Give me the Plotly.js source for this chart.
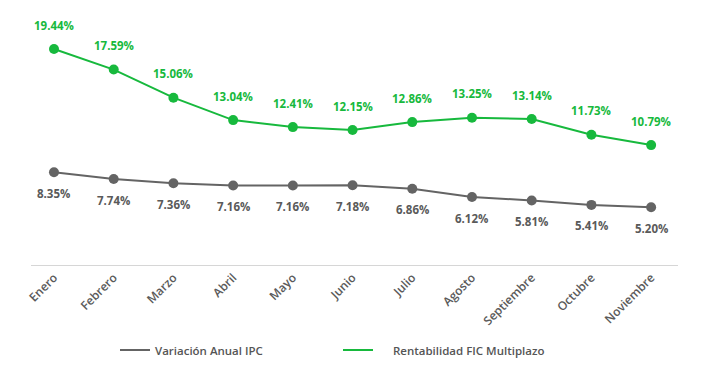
<!DOCTYPE html>
<html>
<head>
<meta charset="utf-8">
<script src="https://cdn.plot.ly/plotly-3.0.1.min.js"></script>
<style>html,body{margin:0;padding:0;background:#fff;}#chart{width:709px;height:368px;}</style>
</head>
<body>
<div id="chart"></div>
<script>
const months = ["Enero","Febrero","Marzo","Abril","Mayo","Junio","Julio","Agosto","Septiembre","Octubre","Noviembre"];
const ipc = [8.35, 7.74, 7.36, 7.16, 7.16, 7.18, 6.86, 6.12, 5.81, 5.41, 5.20];
const fic = [19.44, 17.59, 15.06, 13.04, 12.41, 12.15, 12.86, 13.25, 13.14, 11.73, 10.79];
const ipcName = "Variación Anual IPC";
const ficName = "Rentabilidad FIC Multiplazo";

const GREEN = "#17b93d";
const GRAY = "#646464";
const FONT = "Open Sans";

const traces = [
  {x: months, y: ipc, name: ipcName, type: "scatter", mode: "lines+markers", showlegend: false,
   line: {color: GRAY, width: 2}, marker: {color: GRAY, size: 10}, hoverinfo: "skip"},
  {x: months, y: fic, name: ficName, type: "scatter", mode: "lines+markers", showlegend: false,
   line: {color: GREEN, width: 2}, marker: {color: GREEN, size: 10}, hoverinfo: "skip"},
  {x: [months[0]], y: [null], name: ipcName, type: "scatter", mode: "lines",
   line: {color: GRAY, width: 2}, legend: "legend", hoverinfo: "skip"},
  {x: [months[0]], y: [null], name: "\u00a0\u00a0\u00a0\u00a0\u00a0" + ficName, type: "scatter", mode: "lines",
   line: {color: GREEN, width: 2}, legend: "legend2", hoverinfo: "skip"}
];

const annotations = [];
months.forEach((m, i) => {
  annotations.push({x: m, y: fic[i], text: fic[i].toFixed(2) + "%", showarrow: false, yshift: 24,
    font: {family: FONT, size: 11.5, color: GREEN, weight: 700}});
  annotations.push({x: m, y: ipc[i], text: ipc[i].toFixed(2) + "%", showarrow: false, yshift: -21,
    font: {family: FONT, size: 11.5, color: "#5a5a5a", weight: 700}});
});

const layout = {
  width: 709, height: 368,
  margin: {l: 31, r: 31, t: 20, b: 103},
  paper_bgcolor: "#fff", plot_bgcolor: "#fff",
  font: {family: FONT, color: "#5a5a5a"},
  xaxis: {type: "category", range: [-0.385, 10.45], showline: true, linecolor: "#d6d6d6", linewidth: 1,
    showgrid: false, zeroline: false, ticks: "", tickangle: -45,
    tickfont: {family: FONT, size: 12, color: "#5a5a5a", weight: 600}},
  yaxis: {range: [0, 22.05], showgrid: false, zeroline: false, showticklabels: false, showline: false},
  showlegend: true,
  legend: {orientation: "h", xref: "container", yref: "container", x: 115/709, xanchor: "left",
    y: 18/368, yanchor: "middle", font: {family: FONT, size: 11.5, color: "#555", weight: 600}, bgcolor: "rgba(0,0,0,0)"},
  legend2: {orientation: "h", xref: "container", yref: "container", x: 338/709, xanchor: "left",
    y: 18/368, yanchor: "middle", font: {family: FONT, size: 11.5, color: "#555", weight: 600}, bgcolor: "rgba(0,0,0,0)"},
  annotations: annotations
};

Plotly.newPlot("chart", traces, layout, {displayModeBar: false, staticPlot: true});
</script>
</body>
</html>
